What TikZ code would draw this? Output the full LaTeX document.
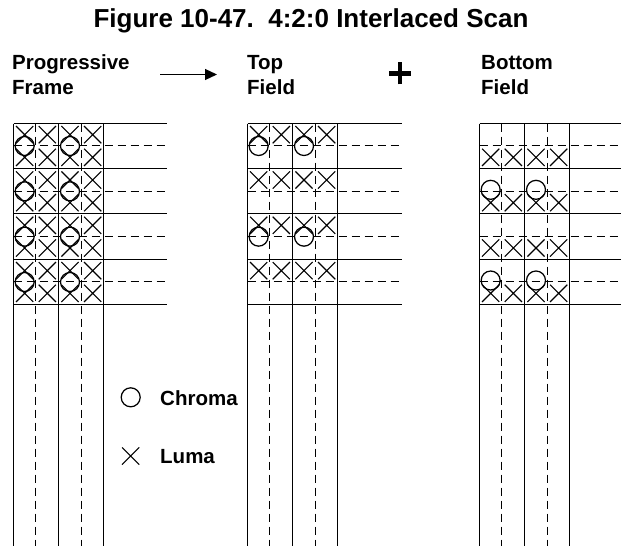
\documentclass[tikz,border=0pt]{standalone}
\usepackage{fontspec}
\setmainfont{Liberation Sans}
\usetikzlibrary{arrows.meta}
\tikzset{
  gridsolid/.style={line width=1.4pt},
  griddash/.style={line width=1.4pt, dash pattern=on 8.5pt off 4.5pt},
  lumamark/.style={line width=1.1pt},
  chromamark/.style={line width=1.25pt},
  lbl/.style={font=\fontsize{20.5}{24}\selectfont\bfseries, inner sep=0pt, anchor=base west},
  titlelbl/.style={font=\fontsize{26}{30}\selectfont\bfseries, inner sep=0pt, anchor=base},
  lumax/.pic={\draw[lumamark] (-8.6,-8.6) -- (8.6,8.6) (-8.6,8.6) -- (8.6,-8.6);},
  chromao/.pic={\draw[chromamark] (0,0) circle[radius=9.5];}
}
\begin{document}
\begin{tikzpicture}[x=1pt,y=-1pt]
\useasboundingbox (0,0) rectangle (621,546);
\clip (0,0) rectangle (621,546);
\def\cs{22.667}
\def\yo{123.33}
\def\yt{123.5}
% title
\node[titlelbl] (title) at (311,27.7) {Figure 10-47.\ \ 4:2:0 Interlaced Scan};
% labels
\node[lbl] (prog) at (12,69) {Progressive};
\node[lbl] (frame) at (12,94.3) {Frame};
\node[lbl] (top) at (247,69) {Top};
\node[lbl] (topf) at (247,94.3) {Field};
\node[lbl] (bot) at (481,69) {Bottom};
\node[lbl] (botf) at (481,94.3) {Field};
% arrow and plus
\coordinate (arrS) at (160,74.5);
\coordinate (arrE) at (217,74.5);
\draw[line width=1.2pt, -{Triangle[length=12pt,width=11pt]}] (arrS) -- (arrE);
\coordinate (plusc) at (400,73.3);
\draw[line width=4.7pt] ([xshift=-11pt]plusc) -- ([xshift=11pt]plusc);
\draw[line width=4.7pt] ([yshift=-11pt]plusc) -- ([yshift=11pt]plusc);
% grids (snapped to pixel centres)
\foreach \xo/\len in {13.33/154, 247.33/154.33, 479.33/160}{
  \pgfmathsetmacro{\xl}{floor(\xo)+0.5}
  \pgfmathsetmacro{\xr}{\xo+\len}
  \foreach \k in {0,2,4,6,8}{
    \pgfmathsetmacro{\yy}{floor(\yo+\k*\cs)+0.5}
    \draw[gridsolid] (\xl,\yy) -- (\xr,\yy);
  }
  \foreach \k in {1,3,5,7}{
    \pgfmathsetmacro{\yy}{floor(\yo+\k*\cs)+0.5}
    \draw[griddash] (\xl,\yy) -- (\xr,\yy);
  }
  \foreach \i in {0,2,4}{
    \pgfmathsetmacro{\xx}{floor(\xo+\i*\cs)+0.5}
    \draw[gridsolid] (\xx,\yt) -- (\xx,550);
  }
  \foreach \i in {1,3}{
    \pgfmathsetmacro{\xx}{floor(\xo+\i*\cs)+0.5}
    \draw[griddash] (\xx,\yt) -- (\xx,550);
  }
}
% progressive frame
\foreach \i in {0,...,3}
  \foreach \j in {0,...,7}
    \pic at (13.33+\i*\cs+0.5*\cs,\yo+\j*\cs+0.5*\cs) {lumax};
\foreach \i in {0,2}
  \foreach \j in {1,3,5,7}
    \pic at (13.33+\i*\cs+0.5*\cs,\yo+\j*\cs) {chromao};
% top field
\foreach \i in {0,...,3}
  \foreach \j in {0,2,4,6}
    \pic at (247.33+\i*\cs+0.5*\cs,\yo+\j*\cs+0.5*\cs) {lumax};
\foreach \i in {0,2}
  \foreach \j in {1,5}
    \pic at (247.33+\i*\cs+0.5*\cs,\yo+\j*\cs) {chromao};
% bottom field
\foreach \i in {0,...,3}
  \foreach \j in {1,3,5,7}
    \pic at (479.33+\i*\cs+0.5*\cs,\yo+\j*\cs+0.5*\cs) {lumax};
\foreach \i in {0,2}
  \foreach \j in {3,7}
    \pic at (479.33+\i*\cs+0.5*\cs,\yo+\j*\cs-1.5) {chromao};
% legend
\coordinate (legc) at (130.7,397.3);
\pic at (legc) {chromao};
\node[lbl] (chroma) at (160,405.3) {Chroma};
\coordinate (legx) at (130.7,456);
\pic at (legx) {lumax};
\node[lbl] (luma) at (160,463.3) {Luma};
\end{tikzpicture}
\end{document}
